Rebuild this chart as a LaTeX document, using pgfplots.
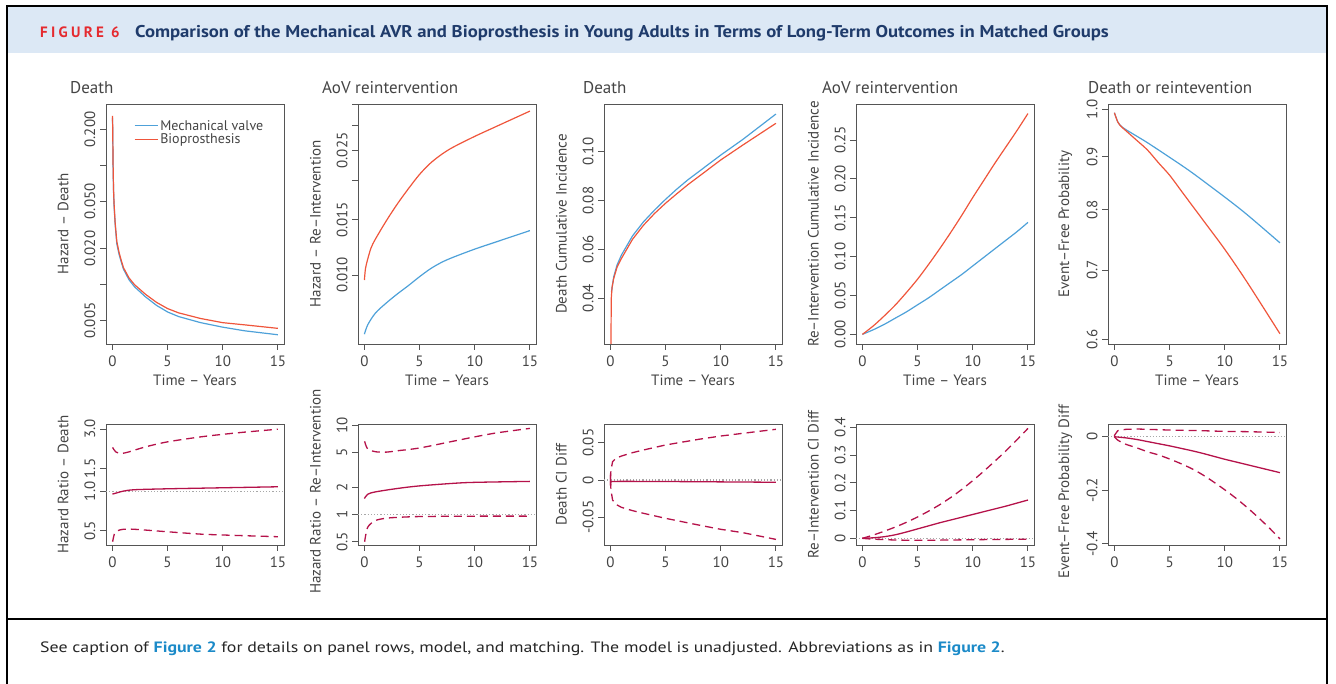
\documentclass[border=0pt]{standalone}
\usepackage{pgfplots}
\pgfplotsset{compat=1.18}
\usepackage{fontspec}
\setmainfont{PT Sans}
\definecolor{mechblue}{HTML}{4EA1D9}
\definecolor{bioreds}{HTML}{EF553B}
\definecolor{diffred}{HTML}{B5124A}
\definecolor{axisgray}{HTML}{555555}
\definecolor{textgray}{HTML}{444444}
\definecolor{headbg}{HTML}{DCE8F5}
\definecolor{headnavy}{HTML}{1F3B6B}
\definecolor{headred}{HTML}{E52A2F}
\definecolor{linkblue}{HTML}{1B8AC8}
\definecolor{refgray}{HTML}{A8A8A8}

\pgfplotsset{
  rpanel/.style={
    scale only axis, anchor=south west, width=178pt,
    xmin=-0.58, xmax=15.55,
    xtick={0,5,10,15}, xticklabels={0,5,10,15},
    scaled y ticks=false, scaled x ticks=false,
    axis line style={axisgray, line width=0.9pt},
    tick style={axisgray, line width=0.9pt},
    tick align=outside, major tick length=6pt, minor tick num=0,
    xtick pos=bottom, ytick pos=left,
    tick label style={textgray, font=\fontsize{15}{15}\selectfont},
    xticklabel style={anchor=center, yshift=-11pt},
    yticklabel style={anchor=center, xshift=-10pt, rotate=90},
    every axis y label/.style={at={(axis description cs:-0.24,0.5)}, rotate=90, anchor=center, textgray, font=\fontsize{15}{15}\selectfont},
    every axis x label/.style={at={(axis description cs:0.5,-0.15)}, anchor=center, textgray, font=\fontsize{15}{15}\selectfont},
  },
  toprow/.style={rpanel, height=240pt, xlabel={Time – Years}},
  botrow/.style={rpanel, height=121pt},
  mech/.style={mechblue, line width=1.2pt},
  bio/.style={bioreds, line width=1.2pt},
  est/.style={diffred, line width=1.3pt},
  ci/.style={diffred, line width=1.3pt, dash pattern=on 8pt off 5pt},
  ref/.style={refgray, line width=1.2pt, dotted},
}

\begin{document}
\begin{tikzpicture}[x=1pt,y=1pt]
\useasboundingbox (0,0) rectangle (1336,684);
% frame and header band
\fill[headbg] (7.5,631) rectangle (1326,677);
\draw[black, line width=2pt] (6.5,0) -- (6.5,678) -- (1327,678) -- (1327,0);
\draw[black, line width=2pt] (6.5,65) -- (1327,65);
\node[anchor=base west, inner sep=0pt, text=headred, font=\fontsize{15}{15}\selectfont\bfseries\addfontfeatures{LetterSpace=22}] at (40,646.5) {FIGURE 6};
\node[anchor=base west, inner sep=0pt, text=headnavy, font=\fontsize{17}{17}\selectfont\bfseries] at (135,646.5) {\scalebox{1.10}[1]{Comparison of the Mechanical AVR and Bioprosthesis in Young Adults in Terms of Long-Term Outcomes in Matched Groups}};
\node[anchor=base west, inner sep=0pt, text=black!85, font=\fontsize{15}{15}\selectfont] at (40,31.3) {\scalebox{1.19}[1]{See caption of \textcolor{linkblue}{\bfseries Figure 2} for details on panel rows, model, and matching. The model is unadjusted. Abbreviations as in \textcolor{linkblue}{\bfseries Figure 2}.}};

% panel titles
\begin{scope}[every node/.style={anchor=base west, inner sep=0pt, text=textgray, font=\fontsize{17}{17}\selectfont}]
\node at (70,590) {Death};
\node at (322,590) {AoV reintervention};
\node at (583,590) {Death};
\node at (822,590) {AoV reintervention};
\node at (1088,590) {Death or reintevention};
\end{scope}

% ---------- top row ----------
\begin{axis}[toprow, at={(106pt,340pt)}, ymode=log, ymin=0.00318, ymax=0.327,
  ytick={0.005,0.01,0.02,0.05,0.1,0.2}, yticklabels={0.005,,0.020,0.050,,0.200},
  ylabel={Hazard – Death},
  legend cell align=left,
  legend style={draw=none, fill=none, at={(axis description cs:0.14,0.95)}, anchor=north west,
    font=\fontsize{14}{14}\selectfont, text=textgray, row sep=-2pt},
  legend image code/.code={\draw[#1] (0pt,0pt) -- (23pt,0pt);}]
\addplot[mech] coordinates {(0.01,0.25)(0.03,0.19)(0.06,0.10)(0.1,0.062)(0.15,0.046)(0.25,0.032)(0.4,0.022)(0.6,0.018)(0.8,0.0155)(1,0.0135)(1.5,0.0110)(2,0.0096)(3,0.0079)(4,0.0067)(5,0.0059)(6,0.0054)(8,0.0048)(10,0.0044)(12,0.0041)(15,0.0038)};
\addplot[bio] coordinates {(0.01,0.26)(0.03,0.20)(0.06,0.105)(0.1,0.065)(0.15,0.048)(0.25,0.033)(0.4,0.023)(0.6,0.0187)(0.8,0.016)(1,0.0139)(1.5,0.0114)(2,0.0100)(3,0.0083)(4,0.0071)(5,0.0063)(6,0.0058)(8,0.0052)(10,0.0048)(12,0.0046)(15,0.0043)};
\legend{Mechanical valve, Bioprosthesis}
\end{axis}

\begin{axis}[toprow, at={(358pt,340pt)}, ymode=log, ymin=0.00602, ymax=0.0352,
  ytick={0.010,0.015,0.020,0.025,0.030,0.035}, yticklabels={0.010,0.015,,0.025,,},
  ylabel={Hazard – Re–Intervention}]
\addplot[mech, smooth] coordinates {(0,0.00647)(0.3,0.00693)(1,0.00756)(2,0.00815)(3,0.00871)(4,0.00926)(5,0.00988)(6,0.01048)(7,0.01098)(8,0.01138)(10,0.01210)(12,0.01278)(15,0.01387)};
\addplot[bio, smooth] coordinates {(0,0.00964)(0.1,0.0105)(0.3,0.01124)(0.6,0.0122)(1,0.01303)(2,0.01493)(3,0.0169)(4,0.0189)(5,0.02097)(6,0.02280)(7,0.0243)(8,0.02557)(10,0.02774)(12,0.02989)(15,0.03341)};
\end{axis}

\begin{axis}[toprow, at={(604pt,340pt)}, ymin=0.0213, ymax=0.1195,
  ytick={0.04,0.06,0.08,0.10}, yticklabels={0.04,0.06,0.08,0.10},
  ylabel={Death Cumulative Incidence}]
\addplot[mech] coordinates {(0.1,0.0427)(0.3,0.0488)(0.6,0.0536)(1,0.0577)(2,0.0655)(3,0.0713)(4,0.0761)(5,0.0805)(6,0.0846)(7,0.0884)(8,0.0918)(10,0.0986)(12,0.1050)(15,0.1154)};
\addplot[bio] coordinates {(0.03,0.010)(0.08,0.040)(0.15,0.0445)(0.3,0.0481)(0.6,0.0527)(1,0.0563)(2,0.0641)(3,0.0699)(4,0.0747)(5,0.0789)(6,0.0827)(7,0.0864)(8,0.0898)(10,0.0966)(12,0.1027)(15,0.1116)};
\end{axis}

\begin{axis}[toprow, at={(856pt,340pt)}, ymin=-0.0124, ymax=0.2963,
  ytick={0,0.05,0.10,0.15,0.20,0.25}, yticklabels={0.00,0.05,0.10,0.15,0.20,0.25},
  ylabel={Re–Intervention Cumulative Incidence}]
\addplot[mech, smooth] coordinates {(0,0)(1,0.006)(2,0.013)(3,0.021)(4,0.029)(5,0.038)(6,0.047)(7,0.057)(8,0.067)(9,0.077)(10,0.088)(11,0.099)(12,0.110)(13,0.121)(14,0.132)(15,0.144)};
\addplot[bio, smooth] coordinates {(0,0)(1,0.011)(2,0.024)(3,0.038)(4,0.054)(5,0.071)(6,0.090)(7,0.110)(8,0.131)(9,0.153)(10,0.176)(11,0.198)(12,0.220)(13,0.241)(14,0.262)(15,0.284)};
\end{axis}

\begin{axis}[toprow, at={(1108pt,340pt)}, ymode=log, ymin=0.594, ymax=1.012,
  ytick={0.6,0.7,0.8,0.9,1.0}, yticklabels={0.6,0.7,0.8,0.9,1.0},
  ylabel={Event–Free Probability}]
\addplot[mech, smooth] coordinates {(0,0.9925)(0.3,0.9729)(0.6,0.9636)(1,0.9566)(2,0.9425)(3,0.9286)(5,0.899)(7,0.8695)(10,0.823)(12,0.792)(15,0.7436)};
\addplot[bio, smooth] coordinates {(0,0.9925)(0.3,0.9725)(0.6,0.963)(1,0.9545)(2,0.934)(3,0.9136)(4,0.8880)(5,0.8641)(6,0.8361)(7,0.8090)(8,0.7830)(10,0.733)(12,0.682)(15,0.6077)};
\end{axis}

% ---------- bottom row ----------
\begin{axis}[botrow, at={(106pt,139pt)}, ymode=log, ymin=0.388, ymax=3.29,
  ytick={0.5,1,1.5,3}, yticklabels={0.5,1.0,1.5,3.0},
  ylabel={Hazard Ratio – Death}]
\addplot[ref] coordinates {(-0.58,1)(15.55,1)};
\addplot[est, smooth] coordinates {(0,0.953)(0.5,0.98)(1,1.005)(2,1.030)(5,1.047)(10,1.066)(15,1.085)};
\addplot[ci, smooth] coordinates {(0.02,2.175)(0.3,2.01)(0.8,1.955)(1.5,2.01)(3,2.196)(5,2.4)(8,2.62)(10,2.74)(12,2.85)(15,3.0)};
\addplot[ci, smooth] coordinates {(0.02,0.411)(0.2,0.477)(0.5,0.50)(1,0.512)(2,0.512)(5,0.49)(8,0.47)(10,0.463)(12,0.457)(15,0.449)};
\end{axis}

\begin{axis}[botrow, at={(358pt,139pt)}, ymode=log, ymin=0.46, ymax=10.3,
  ytick={0.5,1,2,5,10}, yticklabels={0.5,1,2,5,10},
  ylabel={Hazard Ratio – Re–Intervention},
  every axis y label/.append style={at={(axis description cs:-0.24,0.44)}}]
\addplot[ref] coordinates {(-0.58,1)(15.55,1)};
\addplot[est, smooth] coordinates {(0,1.516)(0.3,1.694)(1,1.80)(3,1.966)(5,2.10)(8,2.24)(10,2.30)(15,2.357)};
\addplot[ci, smooth] coordinates {(0.02,6.6)(0.3,5.42)(1,5.05)(2,5.0)(3,5.18)(5,5.56)(8,6.6)(10,7.4)(12,8.2)(15,9.2)};
\addplot[ci, smooth] coordinates {(0.02,0.5)(0.3,0.725)(1,0.862)(2,0.916)(3,0.935)(5,0.955)(10,0.965)(15,0.965)};
\end{axis}

\begin{axis}[botrow, at={(604pt,139pt)}, ymin=-0.087, ymax=0.075,
  ytick={-0.05,0,0.05}, yticklabels={-0.05,0,0.05},
  ylabel={Death CI Diff}]
\addplot[ref] coordinates {(-0.58,0)(15.55,0)};
\addplot[est] coordinates {(0,0.009)(0.01,-0.008)(0.05,-0.002)(1,-0.0018)(5,-0.002)(10,-0.0025)(15,-0.003)};
\addplot[ci] coordinates {(0,0.0009)(0.05,0.0134)(0.2,0.0246)(0.5,0.029)(1,0.0321)(2,0.0366)(3,0.0402)(5,0.0469)(8,0.0545)(10,0.0589)(12,0.0625)(15,0.0679)};
\addplot[ci] coordinates {(0,-0.0009)(0.05,-0.0134)(0.2,-0.0268)(0.5,-0.0326)(1,-0.0366)(2,-0.041)(3,-0.0446)(5,-0.0513)(8,-0.0603)(10,-0.066)(12,-0.0705)(15,-0.0795)};
\end{axis}

\begin{axis}[botrow, at={(856pt,139pt)}, ymin=-0.024, ymax=0.412,
  ytick={0,0.1,0.2,0.3,0.4}, yticklabels={0,0.1,0.2,0.3,0.4},
  ylabel={Re–Intervention CI Diff}]
\addplot[ref] coordinates {(-0.58,0)(15.55,0)};
\addplot[est, smooth] coordinates {(0,0)(1,0.002)(2,0.006)(3,0.013)(4,0.023)(5,0.034)(6,0.045)(7,0.056)(8,0.066)(9,0.076)(10,0.086)(11,0.096)(12,0.106)(13,0.116)(14,0.127)(15,0.138)};
\addplot[ci, smooth] coordinates {(0,0)(1,0.012)(2,0.026)(3,0.041)(4,0.058)(5,0.077)(6,0.098)(7,0.121)(8,0.147)(9,0.176)(10,0.208)(11,0.242)(12,0.278)(13,0.315)(14,0.355)(15,0.396)};
\addplot[ci, smooth] coordinates {(0,0)(1,-0.003)(3,-0.006)(5,-0.007)(8,-0.006)(10,-0.005)(15,-0.003)};
\end{axis}

\begin{axis}[botrow, at={(1108pt,139pt)}, ymin=-0.404, ymax=0.0476,
  ytick={-0.4,-0.2,0}, yticklabels={-0.4,-0.2,0},
  ylabel={Event–Free Probability Diff},
  every axis y label/.append style={at={(axis description cs:-0.24,0.44)}}]
\addplot[ref] coordinates {(-0.58,0)(15.55,0)};
\addplot[est, smooth] coordinates {(0,0)(1,-0.004)(2,-0.010)(3,-0.018)(4,-0.026)(5,-0.034)(6,-0.043)(7,-0.052)(8,-0.062)(9,-0.073)(10,-0.084)(11,-0.094)(12,-0.104)(13,-0.114)(14,-0.124)(15,-0.134)};
\addplot[ci] coordinates {(0,0)(0.02,0.006)(0.3,0.0225)(1,0.0275)(2,0.029)(5,0.025)(8,0.0225)(10,0.02)(12,0.019)(15,0.016)};
\addplot[ci, smooth] coordinates {(0,0)(0.3,-0.0125)(1,-0.0275)(2,-0.041)(3,-0.056)(4,-0.068)(5,-0.083)(6,-0.100)(7,-0.119)(8,-0.142)(9,-0.169)(10,-0.198)(11,-0.229)(12,-0.263)(13,-0.300)(14,-0.339)(15,-0.381)};
\end{axis}
\end{tikzpicture}
\end{document}
